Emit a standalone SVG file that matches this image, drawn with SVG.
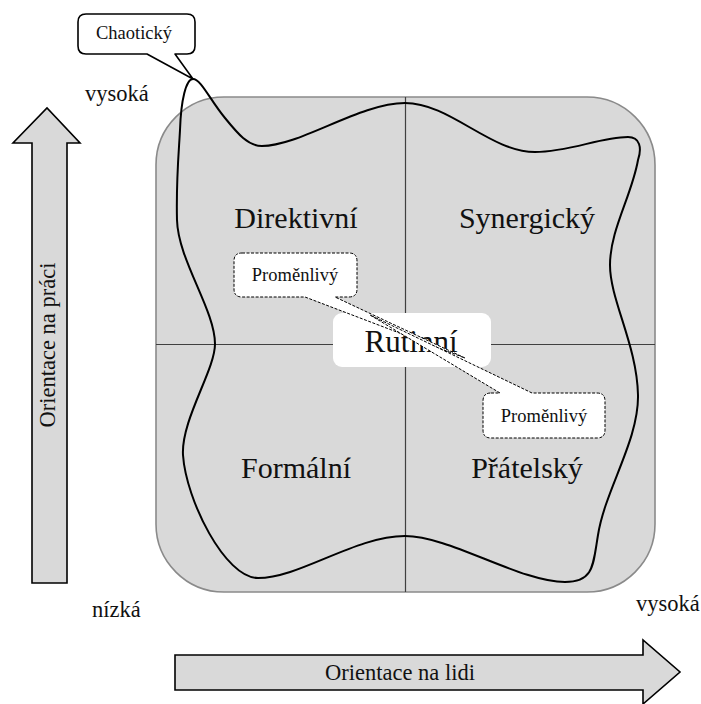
<svg xmlns="http://www.w3.org/2000/svg" width="701" height="704" viewBox="0 0 701 704">
  <style>
    text { font-family: "Liberation Serif", "Times New Roman", serif; fill: #111; }
    .axis { font-size: 22.5px; }
    .quad { font-size: 30px; text-anchor: middle; }
    .small { font-size: 18.5px; text-anchor: middle; }
    .arrow { fill: #d9d9d9; stroke: #000; stroke-width: 1.6; stroke-linejoin: miter; }
    .callout { fill: #fff; stroke: #000; stroke-linejoin: round; }
    .dashed { stroke-width: 1; stroke-dasharray: 3 1.5; }
  </style>

  <!-- grid background -->
  <g id="grid">
    <rect x="156" y="97" width="499" height="495" rx="68" ry="68" fill="#d9d9d9" stroke="#8a8a8a" stroke-width="1.6"/>
    <line x1="405.5" y1="97" x2="405.5" y2="592" stroke="#404040" stroke-width="1.2"/>
    <line x1="156" y1="344.5" x2="655" y2="344.5" stroke="#404040" stroke-width="1.2"/>
  </g>

  <!-- axis arrows -->
  <g id="axis-y">
    <path class="arrow" d="M32,583 V143 H13 L47,108 L80,143 H67 V583 Z"/>
    <text class="axis" text-anchor="middle" transform="translate(55,345) rotate(-90)">Orientace na práci</text>
  </g>
  <g id="axis-x">
    <path class="arrow" d="M175,655 H643 V640 L680,672 L643,704 V690 H175 Z"/>
    <text class="axis" x="400" y="680" text-anchor="middle">Orientace na lidi</text>
  </g>

  <g id="labels">
    <text class="axis" x="85" y="101">vysoká</text>
    <text class="axis" x="92" y="617">nízká</text>
    <text class="axis" x="636" y="611">vysoká</text>
  </g>

  <!-- style boundary curve -->
  <g id="connectors">
    <path fill="none" stroke="#000" stroke-width="2" d="M180,130 C181,100 186,79 193,79 C201,79 210,100 225,118 C238,134 248,146 262,146 C300,146 360,103 405,103 C450,103 490,152 535,152 C570,152 600,137 628,137 C640,137 642,148 638,160 C632,195 610,230 610,265 C610,300 637,345 638,395 C639,440 605,490 598,535 C593,565 594,582 565,582 C520,582 450,536 405,536 C355,536 300,578 258,578 C225,578 186,500 183,455 C181,420 215,370 215,344 C215,310 178,260 177,220 C176,180 179,150 180,130 Z"/>
  </g>

  <!-- quadrants -->
  <g id="direktivni"><text class="quad" x="296" y="228">Direktivní</text></g>
  <g id="synergicky"><text class="quad" x="527" y="228">Synergický</text></g>
  <g id="formalni"><text class="quad" x="296" y="478">Formální</text></g>
  <g id="pratelsky"><text class="quad" x="527" y="478">Přátelský</text></g>

  <g id="rutinni">
    <rect x="333" y="313" width="158" height="54" rx="9" ry="9" fill="#fff"/>
    <text x="411" y="352" font-size="31" text-anchor="middle" fill="#000">Rutinní</text>
  </g>

  <!-- callouts -->
  <g id="chaoticky">
    <path class="callout" stroke-width="1.6" d="M86,14 H187 Q195,14 195,22 V46 Q195,54 187,54 H175 L193,79 L147,54 H86 Q78,54 78,46 V22 Q78,14 86,14 Z"/>
    <text class="small" x="134" y="39" font-size="18">Chaotický</text>
  </g>
  <g id="promenlivy-1">
    <path class="callout dashed" d="M242,253 H349 Q357,253 357,261 V289 Q357,297 349,297 H335 L465,358 L305,297 H242 Q234,297 234,289 V261 Q234,253 242,253 Z"/>
    <text class="small" x="295" y="281">Proměnlivý</text>
  </g>
  <g id="promenlivy-2">
    <path class="callout dashed" d="M491,393 H500 L370,315 L532,393 H597 Q605,393 605,401 V430 Q605,438 597,438 H491 Q483,438 483,430 V401 Q483,393 491,393 Z"/>
    <text class="small" x="544" y="422">Proměnlivý</text>
  </g>
</svg>
